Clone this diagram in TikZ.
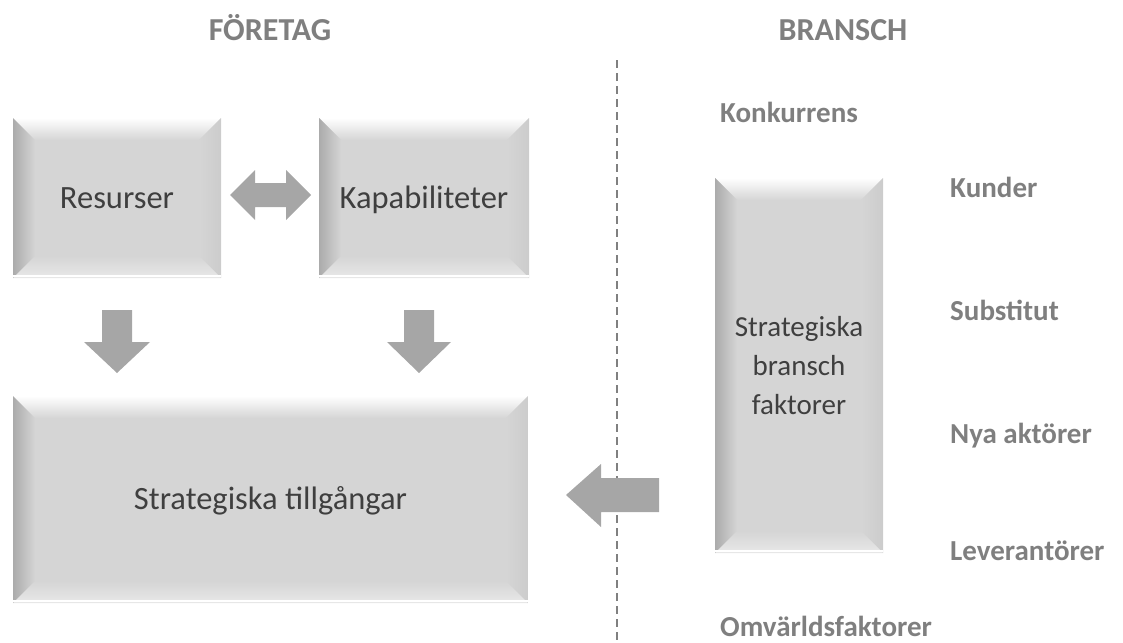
\documentclass[tikz,border=0pt]{standalone}
\usepackage{fontspec}
\setmainfont{Carlito}
\usetikzlibrary{calc}
\definecolor{face}{HTML}{D5D5D5}
\definecolor{arrowgray}{HTML}{A6A6A6}
\definecolor{labelgray}{HTML}{7F7F7F}
\definecolor{boxtext}{HTML}{3F3F3F}
\tikzset{
  bevelbox/.style={rectangle, inner sep=0pt, fill=face, text=boxtext,
    font=\fontsize{32.5}{39}\selectfont, align=center,
    path picture={
      \def\bw{22pt}
      \coordinate (NW) at (path picture bounding box.north west);
      \coordinate (NE) at (path picture bounding box.north east);
      \coordinate (SW) at (path picture bounding box.south west);
      \coordinate (SE) at (path picture bounding box.south east);
      \shade[top color=white, bottom color=face]
        (NW) -- (NE) -- ($(NE)+(-\bw,-\bw)$) -- ($(NW)+(\bw,-\bw)$) -- cycle;
      \shade[left color=black!33, right color=face]
        (NW) -- ($(NW)+(\bw,-\bw)$) -- ($(SW)+(\bw,\bw)$) -- (SW) -- cycle;
      \shade[left color=face, right color=black!20]
        (NE) -- ($(NE)+(-\bw,-\bw)$) -- ($(SE)+(-\bw,\bw)$) -- (SE) -- cycle;
      \shade[top color=face, bottom color=black!9]
        (SW) -- ($(SW)+(\bw,\bw)$) -- ($(SE)+(-\bw,\bw)$) -- (SE) -- cycle;
      \fill[white] ($(SW)+(0,3pt)$) rectangle ($(SE)+(0,1.5pt)$);
    }},
  sidelabel/.style={text=labelgray, font=\bfseries\fontsize{29}{34}\selectfont, inner sep=0pt, anchor=base west},
  titlelabel/.style={text=labelgray, font=\bfseries\fontsize{32}{36}\selectfont, inner sep=0pt, anchor=base},
  blockarrow/.style={fill=arrowgray, draw=none},
  divider/.style={draw=black!50, line width=2.5pt, dash pattern=on 8pt off 5pt}
}
\begin{document}
\begin{tikzpicture}[x=1pt,y=-1pt]
\useasboundingbox (0,0) rectangle (1123,642);
% titles
\node[titlelabel] (foretag) at (270,41) {FÖRETAG};
\node[titlelabel] (bransch) at (843,41) {BRANSCH};
% divider
\coordinate (dtop) at (617,60);
\coordinate (dbot) at (617,642);
\draw[divider] (dtop) -- (dbot);
% boxes
\node[bevelbox, minimum width=208pt, minimum height=160pt] (resurser) at (117,198) {};
\node[bevelbox, minimum width=210pt, minimum height=160pt] (kapab) at (424,198) {};
\node[bevelbox, minimum width=515pt, minimum height=207pt] (tillg) at (270.5,499.5) {};
\node[bevelbox, minimum width=168pt, minimum height=375pt, font=\fontsize{29}{39}\selectfont] (sbf) at (799,365.5) {Strategiska\\bransch\\faktorer};
\node[text=boxtext, font=\fontsize{32.5}{39}\selectfont, anchor=base, inner sep=0pt] (resurserlbl) at ([yshift=-10pt]resurser.center) {Resurser};
\node[text=boxtext, font=\fontsize{32.5}{39}\selectfont, anchor=base, inner sep=0pt] (kapablbl) at ([yshift=-10pt]kapab.center) {Kapabiliteter};
\node[text=boxtext, font=\fontsize{32.5}{39}\selectfont, anchor=base, inner sep=0pt] (tillglbl) at ([yshift=-10pt]tillg.center) {Strategiska tillgångar};
% block arrows
\fill[blockarrow] (230,195) -- (255,170) -- (255,183) -- (286,183) -- (286,170) -- (311,195)
  -- (286,220) -- (286,207) -- (255,207) -- (255,220) -- cycle;
\fill[blockarrow] (102,310) -- (132,310) -- (132,342) -- (150,342) -- (117,373) -- (84,342) -- (102,342) -- cycle;
\fill[blockarrow] (404,310) -- (434,310) -- (434,342) -- (451,342) -- (419,373) -- (387,342) -- (404,342) -- cycle;
\fill[blockarrow] (566,495) -- (601,464) -- (601,478) -- (659,478) -- (659,512) -- (601,512) -- (601,527) -- cycle;
% side labels
\node[sidelabel] (konk) at (720,122) {Konkurrens};
\node[sidelabel] (kunder) at (950,197) {Kunder};
\node[sidelabel] (subst) at (950,320) {Substitut};
\node[sidelabel] (nya) at (950,443) {Nya aktörer};
\node[sidelabel] (lev) at (950,560) {Leverantörer};
\node[sidelabel] (omv) at (720,636) {Omvärldsfaktorer};
\end{tikzpicture}
\end{document}
